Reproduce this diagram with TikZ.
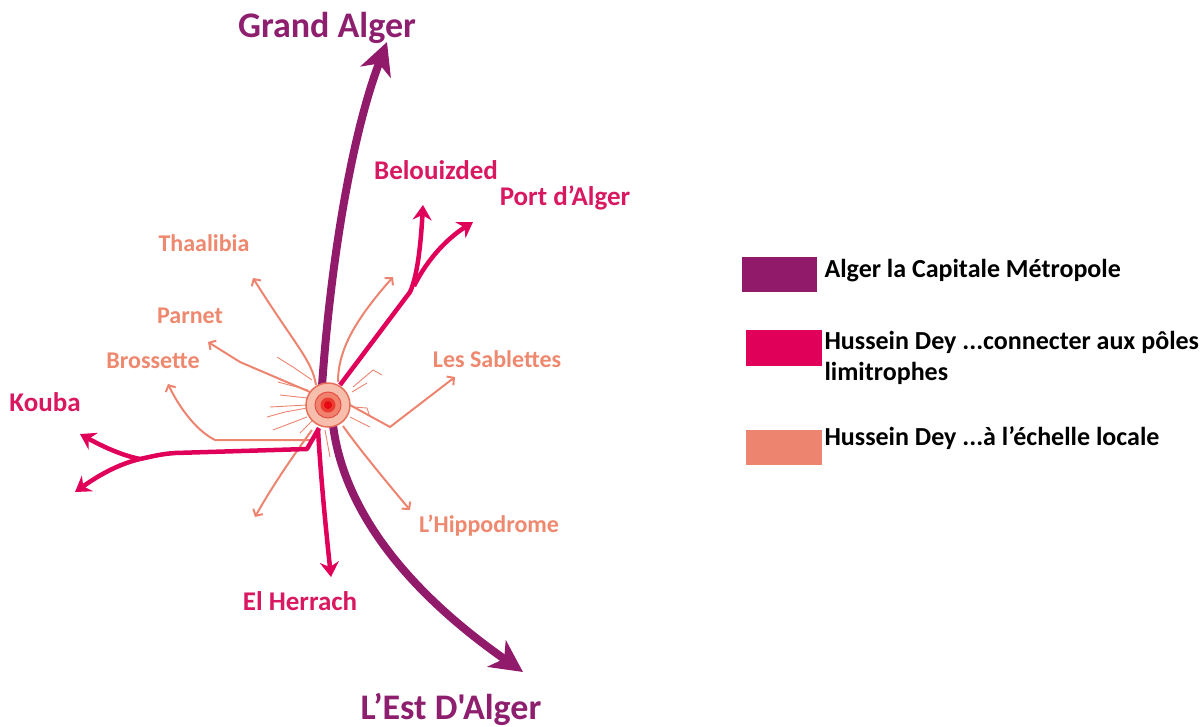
\documentclass[tikz,border=0pt]{standalone}
\usepackage{fontspec}
\newfontfamily\calfont{Carlito}
\usetikzlibrary{arrows.meta}
\definecolor{cpurple}{RGB}{146,26,106}
\definecolor{cpink}{RGB}{224,0,90}
\definecolor{csalmon}{RGB}{236,132,112}
\definecolor{lpurple}{RGB}{142,30,110}
\definecolor{lpink}{RGB}{216,24,96}
\definecolor{lsalmon}{RGB}{238,136,110}
\tikzset{
  bigarrow/.style={draw=cpurple, line width=8pt, -{Stealth[length=32pt,width=32pt,inset=9pt]}},
  pinkarrow/.style={draw=cpink, line width=4.5pt, line join=round, -{Stealth[length=15pt,width=19pt,inset=5pt]}},
  pinkline/.style={draw=cpink, line width=4.5pt, line join=round},
  localarrow/.style={draw=csalmon, line width=2pt, line join=round, -{Straight Barb[length=5pt,width=11pt,line width=2pt]}},
  whisker/.style={draw=csalmon, line width=0.9pt},
  biglabel/.style={font=\calfont\fontsize{36}{40}\selectfont\bfseries, text=lpurple},
  pinklabel/.style={font=\calfont\fontsize{27}{30}\selectfont\bfseries, text=lpink},
  loclabel/.style={font=\calfont\fontsize{24}{28}\selectfont\bfseries, text=lsalmon},
  legtext/.style={font=\calfont\fontsize{26}{31}\selectfont\bfseries, text=black, anchor=west, align=left},
}
\begin{document}
\begin{tikzpicture}[x=1pt,y=-1pt]
\useasboundingbox (0,0) rectangle (1204,726);
% hub coordinates
\coordinate (hc) at (328,405);
% whiskers
\draw[whisker] (277,357) -- (293,367) -- (312,380);
\draw[whisker] (278,382) -- (308,390);
\draw[whisker] (280,395) -- (307,398);
\draw[whisker] (270,407) -- (307,405);
\draw[whisker] (267,417) -- (285,412) -- (307,408);
\draw[whisker] (273,430) -- (307,417);
\draw[whisker] (300,433) -- (313,420);
\draw[whisker] (353,387) -- (373,370) -- (382,375);
\draw[whisker] (352,392) -- (367,383);
\draw[whisker] (353,407) -- (367,408) -- (370,417);
\draw[whisker] (350,417) -- (370,427);
\draw[whisker] (325,430) -- (330,457);
% tips
\coordinate (tGA) at (387,42);
\coordinate (tEA) at (523,672);
\coordinate (tBel) at (423,205);
\coordinate (tPort) at (473,222);
\coordinate (kBranch) at (140,459);
\coordinate (tKo1) at (80,434);
\coordinate (tKo2) at (75,492);
\coordinate (tEH) at (331,577);
\coordinate (tTh) at (253,278);
\coordinate (tPa) at (208,342);
\coordinate (tBr) at (168,384);
\coordinate (tLL) at (255,517);
\coordinate (tHi) at (410,510);
\coordinate (tSa) at (455,377);
\coordinate (tUR) at (393,277);
% local arrows
\draw[localarrow] (316,385) .. controls (312,360) and (295,345) .. (tTh);
\draw[localarrow] (310,392) -- (240,362) -- (tPa);
\draw[localarrow] (312,440) -- (215,440) .. controls (195,430) and (178,405) .. (tBr);
\draw[localarrow] (312,430) .. controls (290,460) and (270,490) .. (tLL);
\draw[localarrow] (343,426) .. controls (360,450) and (385,480) .. (tHi);
\draw[localarrow] (350,405) -- (390,427) -- (tSa);
\draw[localarrow] (338,382) .. controls (338,350) and (355,320) .. (tUR);
% pink arrows
\draw[pinkarrow] (340,385) -- (410,292) .. controls (418,275) and (421,240) .. (tBel);
\draw[pinkarrow] (414,286) .. controls (428,258) and (448,238) .. (tPort);
\draw[pinkline] (319,428) -- (307,449) -- (175,453) .. controls (160,454) and (150,457) .. (kBranch);
\draw[pinkarrow] (kBranch) .. controls (120,455) and (100,445) .. (tKo1);
\draw[pinkarrow] (kBranch) .. controls (115,465) and (95,478) .. (tKo2);
\draw[pinkarrow] (318,430) .. controls (321,480) and (326,530) .. (tEH);
% purple
\draw[bigarrow] (322,386) .. controls (330,270) and (350,140) .. (tGA);
\draw[bigarrow] (333,425) .. controls (345,520) and (420,600) .. (tEA);
% hub
\node[circle, minimum size=44pt, inner sep=0pt, fill={rgb,255:red,247;green,190;blue,172}, draw={rgb,255:red,232;green,110;blue,90}, line width=1.5pt] (hub) at (hc) {};
\node[circle, minimum size=26pt, inner sep=0pt, fill={rgb,255:red,240;green,130;blue,110}, draw={rgb,255:red,228;green,80;blue,70}, line width=1pt] (hub2) at (hc) {};
\node[circle, minimum size=15pt, inner sep=0pt, fill={rgb,255:red,236;green,60;blue,50}] (hub3) at (hc) {};
\node[circle, minimum size=8pt, inner sep=0pt, fill={rgb,255:red,230;green,10;blue,20}] (hub4) at (hc) {};
% labels
\node[biglabel] (lGA) at (327,28) {Grand Alger};
\node[biglabel] (lEA) at (451,709) {L’Est D'Alger};
\node[pinklabel] (lBel) at (436,170) {Belouizded};
\node[pinklabel] (lPort) at (565,198) {Port d’Alger};
\node[pinklabel] (lKo) at (45,402) {Kouba};
\node[pinklabel] (lEH) at (300,601) {El Herrach};
\node[loclabel] (lTh) at (204,243) {Thaalibia};
\node[loclabel] (lPa) at (190,316) {Parnet};
\node[loclabel] (lBr) at (153,361) {Brossette};
\node[loclabel] (lSa) at (497,359) {Les Sablettes};
\node[loclabel] (lHi) at (489,526) {L’Hippodrome};
% legend
\node[fill=cpurple, minimum width=75pt, minimum height=35pt, inner sep=0pt] (k1) at (779.5,274.5) {};
\node[fill=cpink, minimum width=76pt, minimum height=36pt, inner sep=0pt] (k2) at (784,348) {};
\node[fill=csalmon, minimum width=76pt, minimum height=35pt, inner sep=0pt] (k3) at (784,447.5) {};
\node[legtext] (t1) at (821,271) {Alger la Capitale Métropole};
\node[legtext] (t2) at (821,358) {Hussein Dey ...connecter aux pôles\\limitrophes};
\node[legtext] (t3) at (821,438) {Hussein Dey ...à l’échelle locale};
\end{tikzpicture}
\end{document}
